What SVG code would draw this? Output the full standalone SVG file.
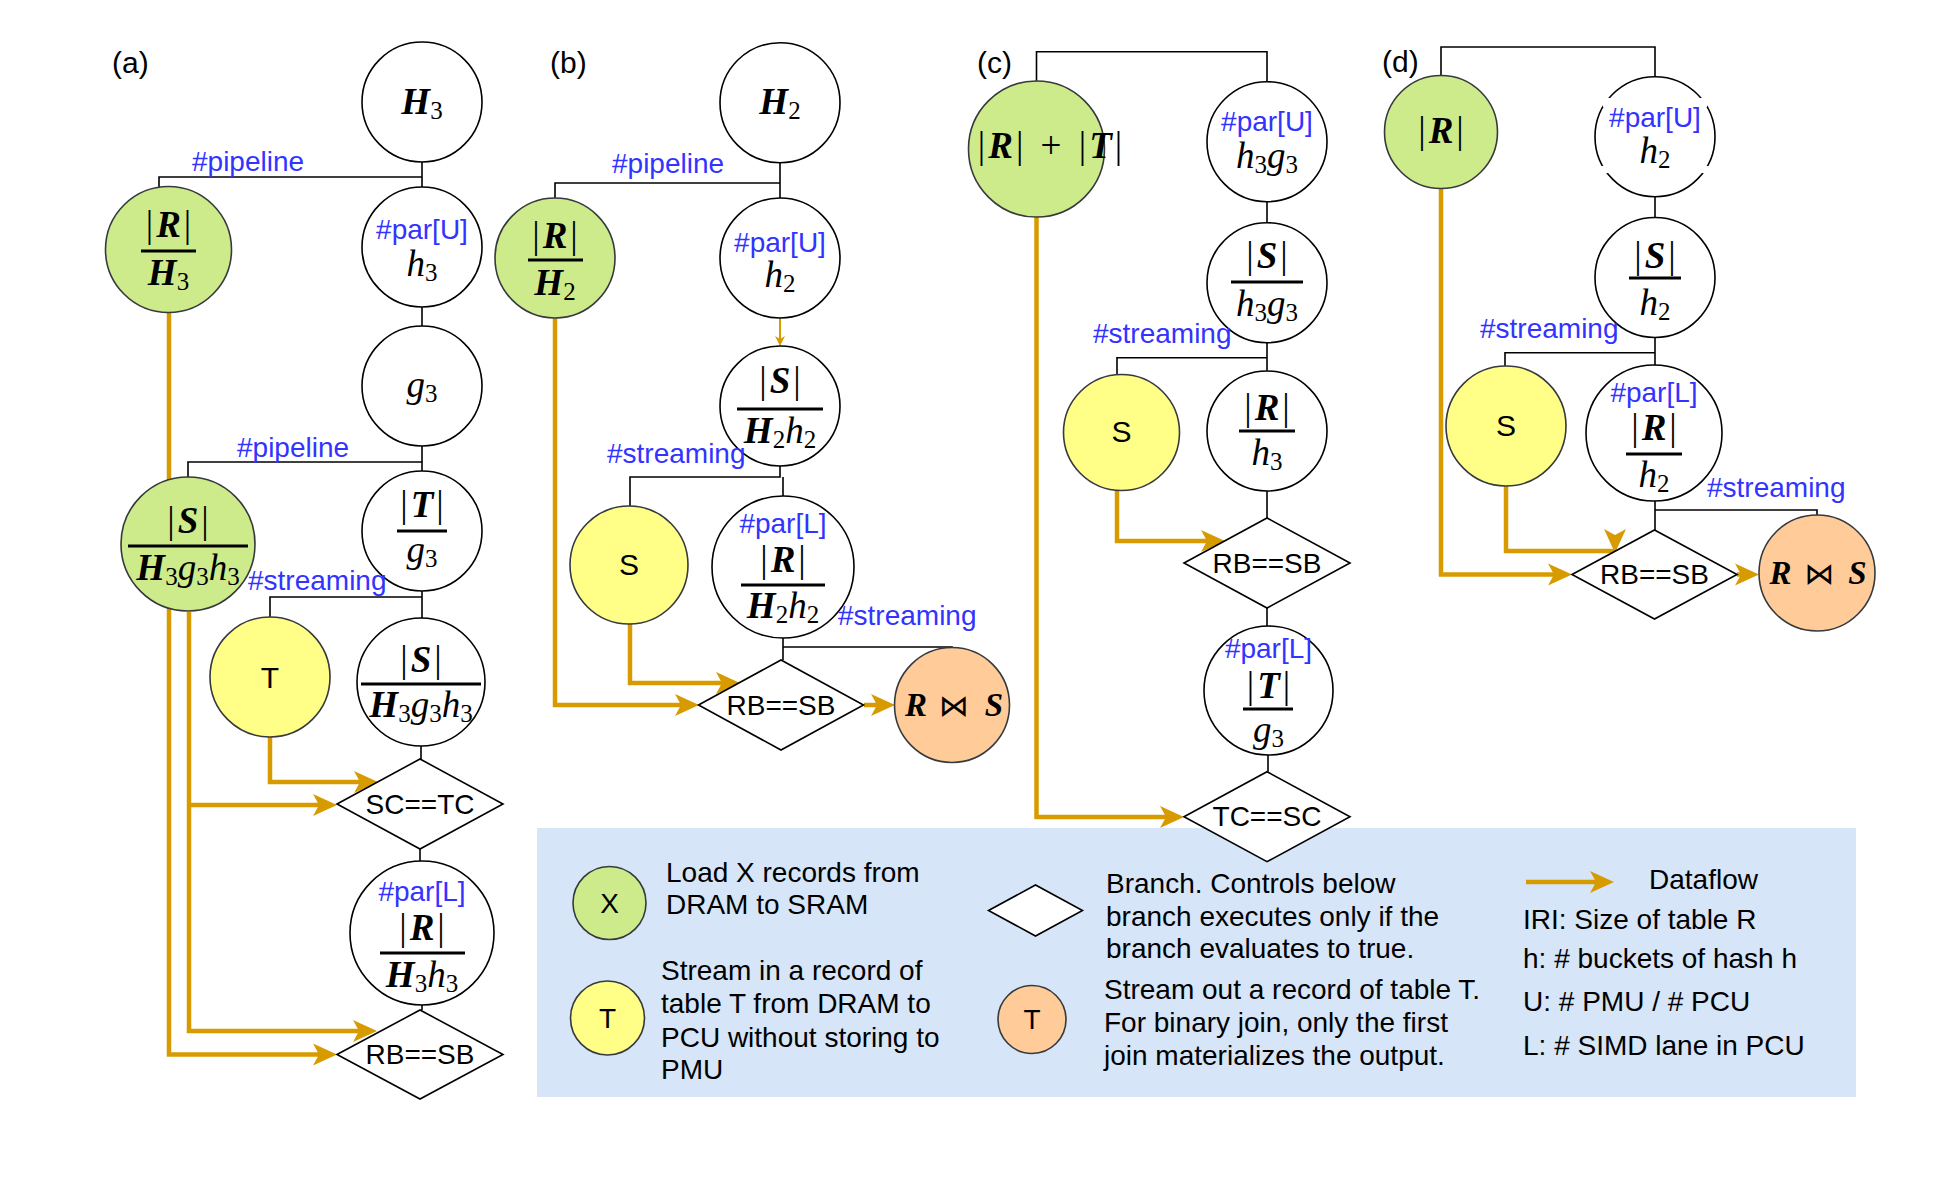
<svg xmlns="http://www.w3.org/2000/svg" width="1950" height="1200" viewBox="0 0 1950 1200">
<defs>
<style>
.nw{fill:#fff;stroke:#000;stroke-width:1.6}
.ng{fill:#cdeb8b;stroke:#36393d;stroke-width:1.6}
.ny{fill:#ffff88;stroke:#36393d;stroke-width:1.6}
.no{fill:#ffcc99;stroke:#36393d;stroke-width:1.6}
.dm{fill:#fff;stroke:#000;stroke-width:1.6}
.cn{fill:none;stroke:#000;stroke-width:1.6}
.df{fill:none;stroke:#d79b00;stroke-width:4.5;marker-end:url(#ah)}
.dfn{fill:none;stroke:#d79b00;stroke-width:4.5}
.dft{fill:none;stroke:#d79b00;stroke-width:2;marker-end:url(#ahs)}
.bar{stroke:#000;stroke-width:3}
.m{font-family:"Liberation Serif","DejaVu Serif",serif;font-size:37px;text-anchor:middle;fill:#000}
.c{font-style:italic;font-weight:bold}
.l{font-style:italic}
.s{font-size:25px}
.bw{font-family:"DejaVu Sans",sans-serif;font-size:30px}
.bl{font-family:"Liberation Sans",Arial,sans-serif;font-size:28px;fill:#3333ff}
.ctr{text-anchor:middle}
.tx{font-family:"Liberation Sans",Arial,sans-serif;font-size:28px;fill:#000}
.pl{font-family:"Liberation Sans",Arial,sans-serif;font-size:30px;fill:#000}
.big{font-size:30px}
.gap{fill:#fff}
</style>
<marker id="ah" markerUnits="userSpaceOnUse" markerWidth="24" markerHeight="24" viewBox="0 0 24 24" refX="12" refY="12" orient="auto">
<path d="M0,1 L24,12 L0,23 L6,12 z" fill="#d79b00"/>
</marker>
<marker id="ahs" markerUnits="userSpaceOnUse" markerWidth="10" markerHeight="10" viewBox="0 0 10 10" refX="5" refY="5" orient="auto">
<path d="M0,0 L10,5 L0,10 L3,5 z" fill="#d79b00"/>
</marker>
</defs>
<rect x="0" y="0" width="1950" height="1200" fill="#fff"/>

<g id="legend">
<rect x="537" y="828" width="1319" height="269" fill="#d6e5f8"/>
<g id="legend-load"><circle class="ng" cx="609.5" cy="903" r="36.5"/><text class="tx ctr" x="609.5" y="913">X</text>
<text class="tx" x="666" y="882">Load X records from</text><text class="tx" x="666" y="914">DRAM to SRAM</text></g>
<g id="legend-stream"><circle class="ny" cx="607.5" cy="1018" r="37"/><text class="tx ctr" x="607.5" y="1028">T</text>
<text class="tx" x="661" y="980">Stream in a record of</text><text class="tx" x="661" y="1013">table T from DRAM to</text><text class="tx" x="661" y="1047">PCU without storing to</text><text class="tx" x="661" y="1079">PMU</text></g>
<g id="legend-branch"><polygon class="dm" points="988.5,910.5 1035.5,885 1082.5,910.5 1035.5,936"/>
<text class="tx" x="1106" y="893">Branch. Controls below</text><text class="tx" x="1106" y="926">branch executes only if the</text><text class="tx" x="1106" y="958">branch evaluates to true.</text></g>
<g id="legend-out"><circle class="no" cx="1032" cy="1019.5" r="34"/><text class="tx ctr" x="1032" y="1029">T</text>
<text class="tx" x="1104" y="999">Stream out a record of table T.</text><text class="tx" x="1104" y="1032">For binary join, only the first</text><text class="tx" x="1104" y="1065">join materializes the output.</text></g>
<g id="legend-dataflow"><path class="df" d="M1526,882 H1602"/><text class="tx" x="1649" y="889">Dataflow</text></g>
<g id="legend-keys"><text class="tx" x="1523" y="929">IRI: Size of table R</text><text class="tx" x="1523" y="968">h: # buckets of hash h</text><text class="tx" x="1523" y="1011">U: # PMU / # PCU</text><text class="tx" x="1523" y="1055">L: # SIMD lane in PCU</text></g>
</g>

<g id="panel-labels" class="pl">
<text x="112" y="73">(a)</text><text x="550" y="73">(b)</text><text x="977" y="73">(c)</text><text x="1382" y="72">(d)</text>
</g>

<g id="connectors">
<path class="cn" d="M422,162 V187 M422,177 H159 V189 M422,307 V326 M422,446 V471 M422,462 H188 V477 M422,591 V618 M422,597 H270 V617 M421,746 V759 M420,849 V861 M422,1005 V1010"/>
<path class="cn" d="M780,162.7 V198 M780,183 H555 V198 M780,466 V477 H630 V506 M783,477 V496 M783,638 V660 M783,647 H952 V648"/>
<path class="cn" d="M1036.5,81.7 V51.7 H1267 V81.7 M1267,201.7 V222.7 M1267,342.7 V370.7 M1267,357.7 H1117 V375 M1267,491 V518 M1267,608 V626 M1268,755 V771.7"/>
<path class="cn" d="M1441,75.5 V47 H1655 V76.7 M1655,196.7 V217.5 M1655,337.5 V365 M1655,352.7 H1505 V366 M1655,501 V530 M1655,510 H1817 V515"/>
<path class="df" d="M169,312 V1054.5 H325"/>
<path class="df" d="M189,612 V1031 H365"/>
<path class="df" d="M189,805 H325"/>
<path class="df" d="M270,737 V782 H366"/>
<path class="df" d="M555,318 V705 H687"/>
<path class="df" d="M630,624 V683 H728"/>
<path class="df" d="M864,705 H883"/>
<path class="dft" d="M780,318 V341"/>
<path class="df" d="M1036.5,217 V817 H1172"/>
<path class="df" d="M1117,490 V541 H1213"/>
<path class="df" d="M1441,188.5 V574.5 H1560"/>
<path class="dfn" d="M1506,486 V551 H1615"/>
<polygon points="1615,553 1604,529 1615,535 1626,529" fill="#d79b00"/>
<path class="df" d="M1737,574.5 H1747"/>
</g>

<!-- panel (a) -->
<g id="a-H3"><circle class="nw" cx="422" cy="102" r="60"/><text class="m" x="422" y="114"><tspan class="c">H</tspan><tspan class="s" dy="5">3</tspan></text></g>
<g id="a-R-H3"><circle class="ng" cx="168.5" cy="249.5" r="63"/><text class="m" x="168.5" y="237">|<tspan class="c" dx="3">R</tspan><tspan dx="3">|</tspan></text><line class="bar" x1="141" y1="251" x2="196" y2="251"/><text class="m" x="168.5" y="285"><tspan class="c">H</tspan><tspan class="s" dy="5">3</tspan></text></g>
<g id="a-parU-h3"><circle class="nw" cx="422" cy="247" r="60"/><text class="bl ctr" x="422" y="239">#par[U]</text><text class="m" x="422" y="276"><tspan class="l">h</tspan><tspan class="s" dy="5">3</tspan></text></g>
<g id="a-g3"><circle class="nw" cx="422" cy="386" r="60"/><text class="m" x="422" y="397"><tspan class="l">g</tspan><tspan class="s" dy="5">3</tspan></text></g>
<g id="a-T-g3"><circle class="nw" cx="422" cy="531" r="60"/><text class="m" x="422" y="517">|<tspan class="c" dx="3">T</tspan><tspan dx="3">|</tspan></text><line class="bar" x1="397" y1="531" x2="447" y2="531"/><text class="m" x="422" y="562"><tspan class="l">g</tspan><tspan class="s" dy="5">3</tspan></text></g>
<g id="a-S-green"><circle class="ng" cx="188" cy="544" r="67"/><text class="m" x="188" y="533">|<tspan class="c" dx="3">S</tspan><tspan dx="3">|</tspan></text><line class="bar" x1="128" y1="546" x2="248" y2="546"/><text class="m" x="188" y="580"><tspan class="c">H</tspan><tspan class="s" dy="5">3</tspan><tspan class="l" dy="-5">g</tspan><tspan class="s" dy="5">3</tspan><tspan class="l" dy="-5">h</tspan><tspan class="s" dy="5">3</tspan></text></g>
<g id="a-T-stream"><circle class="ny" cx="270" cy="677" r="60"/><text class="tx ctr big" x="270" y="688">T</text></g>
<g id="a-S-white"><circle class="nw" cx="421" cy="682" r="64"/><text class="m" x="421" y="672">|<tspan class="c" dx="3">S</tspan><tspan dx="3">|</tspan></text><line class="bar" x1="361" y1="684" x2="481" y2="684"/><text class="m" x="421" y="717"><tspan class="c">H</tspan><tspan class="s" dy="5">3</tspan><tspan class="l" dy="-5">g</tspan><tspan class="s" dy="5">3</tspan><tspan class="l" dy="-5">h</tspan><tspan class="s" dy="5">3</tspan></text></g>
<g id="a-SC-TC"><polygon class="dm" points="337,804 420,759 503,804 420,849"/><text class="tx ctr" x="420" y="814">SC==TC</text></g>
<g id="a-parL-R"><circle class="nw" cx="422" cy="933" r="72"/><text class="bl ctr" x="422" y="901">#par[L]</text><text class="m" x="422" y="940">|<tspan class="c" dx="3">R</tspan><tspan dx="3">|</tspan></text><line class="bar" x1="380" y1="953" x2="465" y2="953"/><text class="m" x="422" y="987"><tspan class="c">H</tspan><tspan class="s" dy="5">3</tspan><tspan class="l" dy="-5">h</tspan><tspan class="s" dy="5">3</tspan></text></g>
<g id="a-RB-SB"><polygon class="dm" points="337,1054.5 420,1010 503,1054.5 420,1099"/><text class="tx ctr" x="420" y="1064">RB==SB</text></g>

<!-- panel (b) -->
<g id="b-H2"><circle class="nw" cx="780" cy="102.7" r="60"/><text class="m" x="780" y="114"><tspan class="c">H</tspan><tspan class="s" dy="5">2</tspan></text></g>
<g id="b-R-H2"><circle class="ng" cx="555" cy="258" r="60"/><text class="m" x="555" y="248">|<tspan class="c" dx="3">R</tspan><tspan dx="3">|</tspan></text><line class="bar" x1="528" y1="260" x2="583" y2="260"/><text class="m" x="555" y="295"><tspan class="c">H</tspan><tspan class="s" dy="5">2</tspan></text></g>
<g id="b-parU-h2"><circle class="nw" cx="780" cy="258" r="60"/><text class="bl ctr" x="780" y="252">#par[U]</text><text class="m" x="780" y="287"><tspan class="l">h</tspan><tspan class="s" dy="5">2</tspan></text></g>
<g id="b-S-H2h2"><circle class="nw" cx="780" cy="406" r="60"/><text class="m" x="780" y="393">|<tspan class="c" dx="3">S</tspan><tspan dx="3">|</tspan></text><line class="bar" x1="737" y1="409" x2="823" y2="409"/><text class="m" x="780" y="443"><tspan class="c">H</tspan><tspan class="s" dy="5">2</tspan><tspan class="l" dy="-5">h</tspan><tspan class="s" dy="5">2</tspan></text></g>
<g id="b-S-stream"><circle class="ny" cx="629" cy="565" r="59"/><text class="tx ctr big" x="629" y="575">S</text></g>
<g id="b-parL-R"><circle class="nw" cx="783" cy="567" r="71"/><text class="bl ctr" x="783" y="533">#par[L]</text><text class="m" x="783" y="572">|<tspan class="c" dx="3">R</tspan><tspan dx="3">|</tspan></text><line class="bar" x1="741" y1="585" x2="825" y2="585"/><text class="m" x="783" y="618"><tspan class="c">H</tspan><tspan class="s" dy="5">2</tspan><tspan class="l" dy="-5">h</tspan><tspan class="s" dy="5">2</tspan></text></g>
<g id="b-RB-SB"><polygon class="dm" points="698.5,705 781,660 863.5,705 781,750"/><text class="tx ctr" x="781" y="715">RB==SB</text></g>
<g id="b-join"><circle class="no" cx="952" cy="705" r="57.5"/><text class="m c" x="916" y="716" style="font-size:33px">R</text><text class="m bw" x="954" y="716">⋈</text><text class="m c" x="994" y="716" style="font-size:33px">S</text></g>

<!-- panel (c) -->
<g id="c-RT"><circle class="ng" cx="1036.5" cy="149" r="68"/><text class="m" x="1050" y="158" style="word-spacing:8px">|<tspan class="c" dx="3">R</tspan><tspan dx="3">|</tspan> + |<tspan class="c" dx="3">T</tspan><tspan dx="3">|</tspan></text></g>
<g id="c-parU-h3g3"><circle class="nw" cx="1267" cy="141.7" r="60"/><text class="bl ctr" x="1267" y="131">#par[U]</text><text class="m" x="1267" y="168"><tspan class="l">h</tspan><tspan class="s" dy="5">3</tspan><tspan class="l" dy="-5">g</tspan><tspan class="s" dy="5">3</tspan></text></g>
<g id="c-S-h3g3"><circle class="nw" cx="1267" cy="282.7" r="60"/><text class="m" x="1267" y="268">|<tspan class="c" dx="3">S</tspan><tspan dx="3">|</tspan></text><line class="bar" x1="1231" y1="282" x2="1303" y2="282"/><text class="m" x="1267" y="316"><tspan class="l">h</tspan><tspan class="s" dy="5">3</tspan><tspan class="l" dy="-5">g</tspan><tspan class="s" dy="5">3</tspan></text></g>
<g id="c-S-stream"><circle class="ny" cx="1121.5" cy="432.5" r="58"/><text class="tx ctr big" x="1121.5" y="442">S</text></g>
<g id="c-R-h3"><circle class="nw" cx="1267" cy="431" r="60"/><text class="m" x="1267" y="420">|<tspan class="c" dx="3">R</tspan><tspan dx="3">|</tspan></text><line class="bar" x1="1239" y1="431" x2="1295" y2="431"/><text class="m" x="1267" y="465"><tspan class="l">h</tspan><tspan class="s" dy="5">3</tspan></text></g>
<g id="c-RB-SB"><polygon class="dm" points="1184,563 1267,518 1350,563 1267,608"/><text class="tx ctr" x="1267" y="573">RB==SB</text></g>
<g id="c-parL-T"><circle class="nw" cx="1268.5" cy="690.5" r="64.5"/><text class="bl ctr" x="1268.5" y="658">#par[L]</text><text class="m" x="1268.5" y="698">|<tspan class="c" dx="3">T</tspan><tspan dx="3">|</tspan></text><line class="bar" x1="1243" y1="709" x2="1293" y2="709"/><text class="m" x="1268.5" y="742"><tspan class="l">g</tspan><tspan class="s" dy="5">3</tspan></text></g>
<g id="c-TC-SC"><polygon class="dm" points="1184,816.7 1267,771.7 1350,816.7 1267,861.7"/><text class="tx ctr" x="1267" y="826">TC==SC</text></g>

<!-- panel (d) -->
<g id="d-R"><circle class="ng" cx="1441" cy="132" r="56.5"/><text class="m" x="1441" y="143">|<tspan class="c" dx="3">R</tspan><tspan dx="3">|</tspan></text></g>
<g id="d-parU-h2"><circle class="nw" cx="1655" cy="136.7" r="60"/><rect class="gap" x="1603" y="98" width="8" height="9"/><rect class="gap" x="1699" y="98" width="8" height="9"/><rect class="gap" x="1601" y="166" width="8" height="7"/><rect class="gap" x="1701" y="166" width="8" height="7"/><text class="bl ctr" x="1655" y="126.7">#par[U]</text><text class="m" x="1655" y="163"><tspan class="l">h</tspan><tspan class="s" dy="5">2</tspan></text></g>
<g id="d-S-h2"><circle class="nw" cx="1655" cy="277.5" r="60"/><text class="m" x="1655" y="268">|<tspan class="c" dx="3">S</tspan><tspan dx="3">|</tspan></text><line class="bar" x1="1629" y1="278" x2="1681" y2="278"/><text class="m" x="1655" y="315"><tspan class="l">h</tspan><tspan class="s" dy="5">2</tspan></text></g>
<g id="d-S-stream"><circle class="ny" cx="1506" cy="426" r="60"/><text class="tx ctr big" x="1506" y="436">S</text></g>
<g id="d-parL-R"><circle class="nw" cx="1654" cy="433" r="68"/><text class="bl ctr" x="1654" y="402">#par[L]</text><text class="m" x="1654" y="440">|<tspan class="c" dx="3">R</tspan><tspan dx="3">|</tspan></text><line class="bar" x1="1626" y1="454" x2="1682" y2="454"/><text class="m" x="1654" y="487"><tspan class="l">h</tspan><tspan class="s" dy="5">2</tspan></text></g>
<g id="d-RB-SB"><polygon class="dm" points="1572,574.5 1654.5,530 1737,574.5 1654.5,619"/><text class="tx ctr" x="1654.5" y="584">RB==SB</text></g>
<g id="d-join"><circle class="no" cx="1817" cy="573" r="58"/><text class="m c" x="1780.5" y="584" style="font-size:33px">R</text><text class="m bw" x="1819.5" y="584">⋈</text><text class="m c" x="1857.5" y="584" style="font-size:33px">S</text></g>

<g id="edge-labels" class="bl">
<text x="192" y="171">#pipeline</text>
<text x="237" y="457">#pipeline</text>
<text x="248" y="590">#streaming</text>
<text x="612" y="173">#pipeline</text>
<text x="607" y="463">#streaming</text>
<text x="838" y="625">#streaming</text>
<text x="1093" y="343">#streaming</text>
<text x="1480" y="338">#streaming</text>
<text x="1707" y="497">#streaming</text>
</g>
</svg>
